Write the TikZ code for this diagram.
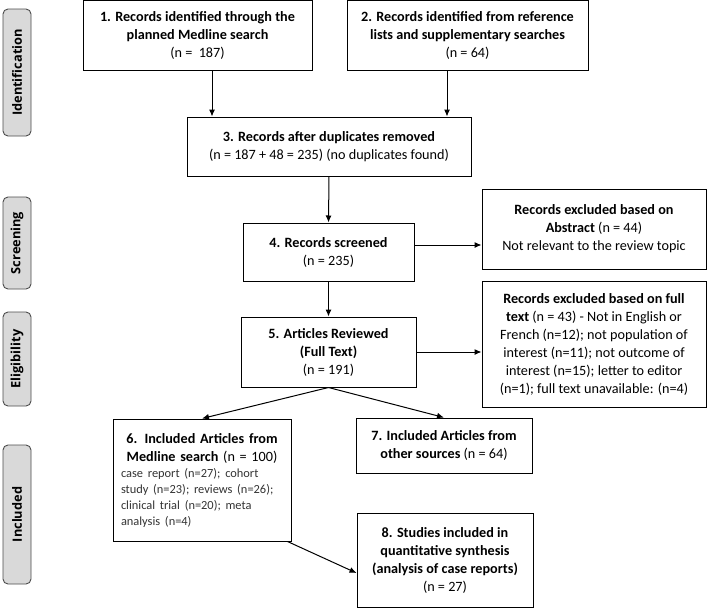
\documentclass[tikz,border=0pt]{standalone}
\usepackage{fontspec}
\setmainfont{Carlito}
\newfontfamily\stagefont{Open Sans}
\usetikzlibrary{arrows,arrows.meta}
\definecolor{detailgray}{HTML}{333333}

\tikzset{
  box/.style={draw, line width=1pt, align=center, inner sep=3pt, font=\fontsize{14.2}{18}\selectfont},
  stage/.style={draw=black!70, fill=black!15, rounded corners=5pt, rotate=90, line width=0.9pt,
    minimum height=28, inner sep=0pt, font=\stagefont\bfseries\fontsize{12.8}{14}\selectfont},
  arr/.style={-{Latex[length=7pt,width=6pt]}, line width=1pt}
}

\begin{document}
\begin{tikzpicture}[x=1pt,y=-1pt]
\useasboundingbox (0,0) rectangle (709,608);
% stage labels
\node[stage, minimum width=127] (sid) at (17,72.5) {Identification};
\node[stage, minimum width=92] (ssc) at (17,243) {Screening};
\node[stage, minimum width=94] (sel) at (17,359) {Eligibility};
\node[stage, minimum width=139] (sin) at (17,514.5) {Included};
% boxes
\node[box, minimum width=229, minimum height=70] (b1) at (197.5,35.5)
  {\textbf{1. Records identified through the}\\\textbf{planned Medline search}\\(n =~~187)};
\node[box, minimum width=241, minimum height=70] (b2) at (467.5,35.5)
  {\textbf{2. Records identified from reference}\\\textbf{lists and supplementary searches}\\(n = 64)};
\node[box, minimum width=284, minimum height=59] (b3) at (329,146.5)
  {\textbf{3. Records after duplicates removed}\\(n = 187 + 48 = 235) (no duplicates found)};
\node[box, minimum width=171, minimum height=58] (b4) at (328.5,252)
  {\textbf{4. Records screened}\\(n = 235)};
\node[box, minimum width=224, minimum height=80] (ex1) at (594,229)
  {\textbf{Records excluded based on}\\\textbf{Abstract} (n = 44)\\Not relevant to the review topic};
\node[box, minimum width=175, minimum height=70] (b5) at (328.5,352)
  {\textbf{5. Articles Reviewed}\\\textbf{(Full Text)}\\(n = 191)};
\node[box, minimum width=224, minimum height=126] (ex2) at (594,344)
  {\textbf{Records excluded based on full}\\\textbf{text} (n = 43) - Not in English or\\French (n=12); not population of\\interest (n=11); not outcome of\\interest (n=15); letter to editor\\(n=1); full text unavailable: (n=4)};
\node[box, minimum width=178, minimum height=122, text width=162, align=left] (b6) at (202,480)
  {{\centering\textbf{6. Included Articles from}\\\textbf{Medline search} (n = 100)\par}
   {\color{detailgray}\fontsize{12.4}{16}\selectfont case report (n=27); cohort\\study (n=23); reviews (n=26);\\clinical trial (n=20); meta\\analysis (n=4)\par}};
\node[box, minimum width=176, minimum height=55] (b7) at (444,445.5)
  {\textbf{7. Included Articles from}\\\textbf{other sources} (n = 64)};
\node[box, minimum width=176, minimum height=94] (b8) at (445,560)
  {\textbf{8. Studies included in}\\\textbf{quantitative synthesis}\\\textbf{(analysis of case reports)}\\(n = 27)};
% arrows
\draw[arr] ([xshift=14.5pt]b1.south) -- ([xshift=14.5pt]b1.south |- b3.north);
\draw[arr] ([xshift=-20.5pt]b2.south) -- ([xshift=-20.5pt]b2.south |- b3.north);
\draw[arr] (b3.south) -- (b4.north);
\draw[arr] ([yshift=7pt]b4.east) -- ([yshift=7pt]b4.east -| ex1.west);
\draw[arr] (b5.east) -- (b5.east -| ex2.west);
\draw[arr] (b4.south) -- (b5.north);
\draw[arr] (b5.south) -- (b6.north);
\draw[arr] (b5.south) -- (b7.north);
\draw[arr] ([xshift=-4pt]b6.south east) -- ([yshift=-13pt]b8.west);
\end{tikzpicture}
\end{document}
